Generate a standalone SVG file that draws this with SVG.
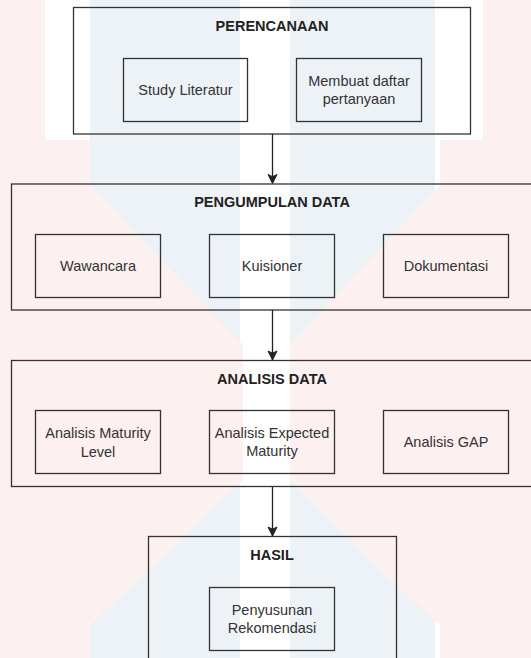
<svg xmlns="http://www.w3.org/2000/svg" width="531" height="658" viewBox="0 0 531 658">
<style>
.box{fill:none;stroke:#333;stroke-width:1.3}
.t{font-family:"Liberation Sans",Arial,sans-serif;font-size:14.5px;fill:#333;text-anchor:middle;dominant-baseline:central}
.h{font-weight:bold;fill:#222}
.edge{stroke:#222;stroke-width:1.3;fill:none}
.pink{fill:#fdf0f0}
.blue{fill:#edf2f7}
</style>
<defs>
<marker id="arr" markerUnits="userSpaceOnUse" markerWidth="12" markerHeight="12" viewBox="0 0 12 12" refX="10" refY="6" orient="auto">
<path d="M1,1.5 L10,6 L1,10.5 L3.2,6 Z" fill="#222" stroke="#222" stroke-width="1"/>
</marker>
</defs>
<g id="background">
<rect x="0" y="0" width="531" height="658" fill="#ffffff"/>
<rect class="blue" x="90" y="0" width="150" height="658"/>
<rect class="blue" x="290" y="0" width="145" height="658"/>
<polygon class="pink" points="0,0 45,0 45,140 90,140 90,185 243,345 243,480 150,570 90,625 90,658 0,658"/>
<polygon class="pink" points="531,0 483,0 483,140 440,140 440,185 290,345 290,480 380,570 440,625 440,658 531,658"/>
</g>
<g id="connectors">
<line class="edge" x1="272.5" y1="134" x2="272.5" y2="183.5" marker-end="url(#arr)"/>
<line class="edge" x1="272.5" y1="310" x2="272.5" y2="360" marker-end="url(#arr)"/>
<line class="edge" x1="272.5" y1="486.5" x2="272.5" y2="536" marker-end="url(#arr)"/>
</g>
<g id="perencanaan">
<rect class="box" x="73.5" y="7.5" width="397" height="126.5"/>
<text class="t h" x="272" y="26">PERENCANAAN</text>
</g>
<g id="study-literatur">
<rect class="box" x="123.5" y="58.5" width="124" height="63"/>
<text class="t" x="185.5" y="90">Study Literatur</text>
</g>
<g id="membuat-daftar">
<rect class="box" x="296.5" y="58.5" width="125" height="63"/>
<text class="t" x="359" y="80.5">Membuat daftar</text>
<text class="t" x="359" y="99">pertanyaan</text>
</g>
<g id="pengumpulan-data">
<rect class="box" x="11.5" y="184" width="530" height="126"/>
<text class="t h" x="272" y="202">PENGUMPULAN DATA</text>
</g>
<g id="wawancara">
<rect class="box" x="35.5" y="234.5" width="125" height="63"/>
<text class="t" x="98" y="266">Wawancara</text>
</g>
<g id="kuisioner">
<rect class="box" x="209.5" y="234.5" width="125" height="63"/>
<text class="t" x="272" y="266">Kuisioner</text>
</g>
<g id="dokumentasi">
<rect class="box" x="383.5" y="234.5" width="125" height="63"/>
<text class="t" x="446" y="266">Dokumentasi</text>
</g>
<g id="analisis-data">
<rect class="box" x="11.5" y="360.5" width="530" height="126"/>
<text class="t h" x="272" y="379">ANALISIS DATA</text>
</g>
<g id="analisis-maturity">
<rect class="box" x="35.5" y="410.5" width="125" height="63"/>
<text class="t" x="98" y="433">Analisis Maturity</text>
<text class="t" x="98" y="451.5">Level</text>
</g>
<g id="analisis-expected">
<rect class="box" x="209.5" y="410.5" width="125" height="63"/>
<text class="t" x="272" y="432.5">Analisis Expected</text>
<text class="t" x="272" y="451">Maturity</text>
</g>
<g id="analisis-gap">
<rect class="box" x="383.5" y="410.5" width="125" height="63"/>
<text class="t" x="446" y="442">Analisis GAP</text>
</g>
<g id="hasil">
<rect class="box" x="148.5" y="536.5" width="248" height="130"/>
<text class="t h" x="272" y="555">HASIL</text>
</g>
<g id="penyusunan-rekomendasi">
<rect class="box" x="209.5" y="587.5" width="125" height="63"/>
<text class="t" x="272" y="609.5">Penyusunan</text>
<text class="t" x="272" y="628">Rekomendasi</text>
</g>
</svg>
